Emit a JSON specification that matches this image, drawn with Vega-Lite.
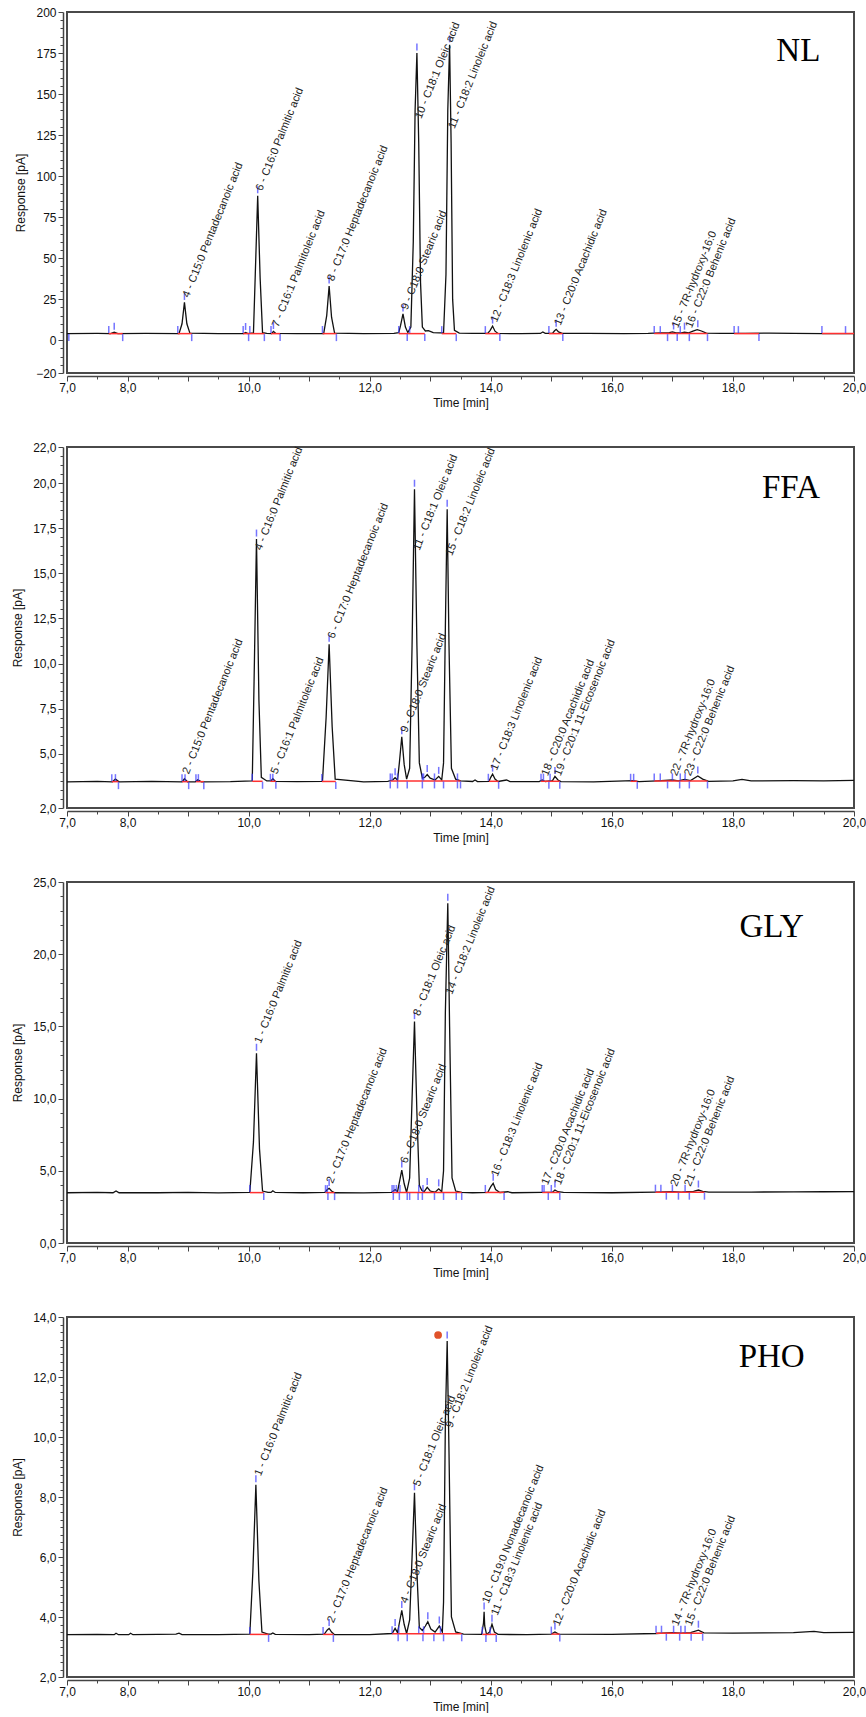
{
"$schema": "https://vega.github.io/schema/vega-lite/v6.json",
"padding": {"left": 10, "top": 5, "right": 13, "bottom": 0},
"spacing": 31,
"config": {
  "view": {"stroke": "#4a4a4a", "strokeWidth": 2},
  "axis": {"labelFont": "Liberation Sans", "labelFontSize": 12, "titleFont": "Liberation Sans", "titleFontSize": 12, "titleFontWeight": "normal", "labelColor": "#111", "titleColor": "#111", "domainColor": "#444", "domainWidth": 1.5, "tickColor": "#444", "tickWidth": 1, "grid": false, "labelOverlap": false, "labelFlush": false, "labelBound": false},
  "axisX": {"offset": 3, "labelPadding": 1, "titlePadding": 4},
  "axisY": {"offset": 4, "labelPadding": 2, "titlePadding": 8}
},
"datasets": {
"trace": [
{"p":"NL","t":7.0,"v":4.0},{"p":"NL","t":7.5,"v":4.1},{"p":"NL","t":7.72,"v":4.0},{"p":"NL","t":7.78,"v":4.9},{"p":"NL","t":7.84,"v":4.0},{"p":"NL","t":8.3,"v":4.1},{"p":"NL","t":8.85,"v":4.0},{"p":"NL","t":8.9,"v":10},{"p":"NL","t":8.94,"v":23},{"p":"NL","t":8.98,"v":10},{"p":"NL","t":9.03,"v":4.3},{"p":"NL","t":9.5,"v":4.0},{"p":"NL","t":9.92,"v":4.0},{"p":"NL","t":9.95,"v":4.7},{"p":"NL","t":9.99,"v":4.0},{"p":"NL","t":10.08,"v":4.4},{"p":"NL","t":10.11,"v":40},{"p":"NL","t":10.15,"v":88},{"p":"NL","t":10.19,"v":38},{"p":"NL","t":10.23,"v":4.6},{"p":"NL","t":10.3,"v":4.1},{"p":"NL","t":10.38,"v":4.0},{"p":"NL","t":10.41,"v":5.3},{"p":"NL","t":10.45,"v":4.1},{"p":"NL","t":10.8,"v":4.0},{"p":"NL","t":11.24,"v":4.0},{"p":"NL","t":11.29,"v":15},{"p":"NL","t":11.33,"v":33},{"p":"NL","t":11.37,"v":14},{"p":"NL","t":11.42,"v":4.3},{"p":"NL","t":11.9,"v":4.0},{"p":"NL","t":12.4,"v":4.2},{"p":"NL","t":12.48,"v":4.6},{"p":"NL","t":12.51,"v":9},{"p":"NL","t":12.55,"v":16},{"p":"NL","t":12.59,"v":8},{"p":"NL","t":12.63,"v":4.6},{"p":"NL","t":12.68,"v":8},{"p":"NL","t":12.72,"v":60},{"p":"NL","t":12.75,"v":140},{"p":"NL","t":12.78,"v":175},{"p":"NL","t":12.81,"v":120},{"p":"NL","t":12.84,"v":35},{"p":"NL","t":12.87,"v":8},{"p":"NL","t":12.92,"v":5.6},{"p":"NL","t":12.97,"v":5.8},{"p":"NL","t":13.05,"v":4.6},{"p":"NL","t":13.15,"v":4.4},{"p":"NL","t":13.22,"v":4.5},{"p":"NL","t":13.26,"v":40},{"p":"NL","t":13.29,"v":140},{"p":"NL","t":13.32,"v":180},{"p":"NL","t":13.345,"v":120},{"p":"NL","t":13.37,"v":25},{"p":"NL","t":13.4,"v":6},{"p":"NL","t":13.48,"v":4.3},{"p":"NL","t":13.7,"v":4.1},{"p":"NL","t":13.95,"v":4.1},{"p":"NL","t":13.99,"v":6},{"p":"NL","t":14.03,"v":8.6},{"p":"NL","t":14.07,"v":5.5},{"p":"NL","t":14.12,"v":4.1},{"p":"NL","t":14.5,"v":4.0},{"p":"NL","t":14.82,"v":4.1},{"p":"NL","t":14.86,"v":5.0},{"p":"NL","t":14.9,"v":4.2},{"p":"NL","t":15.02,"v":4.1},{"p":"NL","t":15.05,"v":5.6},{"p":"NL","t":15.08,"v":6.6},{"p":"NL","t":15.12,"v":5},{"p":"NL","t":15.18,"v":4.2},{"p":"NL","t":15.6,"v":4.1},{"p":"NL","t":16.2,"v":4.0},{"p":"NL","t":16.6,"v":4.1},{"p":"NL","t":16.8,"v":4.4},{"p":"NL","t":16.95,"v":4.6},{"p":"NL","t":17.0,"v":5.0},{"p":"NL","t":17.06,"v":4.4},{"p":"NL","t":17.15,"v":4.5},{"p":"NL","t":17.2,"v":4.9},{"p":"NL","t":17.27,"v":4.5},{"p":"NL","t":17.34,"v":5.5},{"p":"NL","t":17.41,"v":6.4},{"p":"NL","t":17.48,"v":5.6},{"p":"NL","t":17.56,"v":4.3},{"p":"NL","t":17.8,"v":4.1},{"p":"NL","t":18.2,"v":4.1},{"p":"NL","t":18.6,"v":4.3},{"p":"NL","t":19.0,"v":4.1},{"p":"NL","t":19.5,"v":4.0},{"p":"NL","t":20.0,"v":4.0},

{"p":"FFA","t":7.0,"v":3.45},{"p":"FFA","t":7.5,"v":3.47},{"p":"FFA","t":7.75,"v":3.45},{"p":"FFA","t":7.8,"v":3.6},{"p":"FFA","t":7.86,"v":3.45},{"p":"FFA","t":8.4,"v":3.47},{"p":"FFA","t":8.9,"v":3.45},{"p":"FFA","t":8.94,"v":3.62},{"p":"FFA","t":8.99,"v":3.45},{"p":"FFA","t":9.12,"v":3.45},{"p":"FFA","t":9.16,"v":3.56},{"p":"FFA","t":9.22,"v":3.45},{"p":"FFA","t":9.7,"v":3.46},{"p":"FFA","t":10.06,"v":3.5},{"p":"FFA","t":10.09,"v":9},{"p":"FFA","t":10.13,"v":16.9},{"p":"FFA","t":10.17,"v":8},{"p":"FFA","t":10.21,"v":3.7},{"p":"FFA","t":10.3,"v":3.5},{"p":"FFA","t":10.37,"v":3.5},{"p":"FFA","t":10.4,"v":3.62},{"p":"FFA","t":10.44,"v":3.48},{"p":"FFA","t":10.8,"v":3.46},{"p":"FFA","t":11.22,"v":3.48},{"p":"FFA","t":11.28,"v":7},{"p":"FFA","t":11.33,"v":11.07},{"p":"FFA","t":11.38,"v":6.5},{"p":"FFA","t":11.43,"v":3.6},{"p":"FFA","t":11.9,"v":3.45},{"p":"FFA","t":12.3,"v":3.47},{"p":"FFA","t":12.38,"v":3.55},{"p":"FFA","t":12.42,"v":3.68},{"p":"FFA","t":12.46,"v":3.55},{"p":"FFA","t":12.49,"v":4.5},{"p":"FFA","t":12.53,"v":5.95},{"p":"FFA","t":12.57,"v":4.4},{"p":"FFA","t":12.61,"v":3.6},{"p":"FFA","t":12.66,"v":4.2},{"p":"FFA","t":12.7,"v":11},{"p":"FFA","t":12.74,"v":19.66},{"p":"FFA","t":12.78,"v":11},{"p":"FFA","t":12.82,"v":4.5},{"p":"FFA","t":12.87,"v":3.65},{"p":"FFA","t":12.91,"v":3.7},{"p":"FFA","t":12.95,"v":3.85},{"p":"FFA","t":13.0,"v":3.65},{"p":"FFA","t":13.08,"v":3.55},{"p":"FFA","t":13.14,"v":3.75},{"p":"FFA","t":13.19,"v":3.55},{"p":"FFA","t":13.22,"v":4.5},{"p":"FFA","t":13.25,"v":12},{"p":"FFA","t":13.28,"v":18.55},{"p":"FFA","t":13.31,"v":11},{"p":"FFA","t":13.35,"v":4.2},{"p":"FFA","t":13.42,"v":3.6},{"p":"FFA","t":13.5,"v":3.5},{"p":"FFA","t":13.7,"v":3.47},{"p":"FFA","t":13.74,"v":3.55},{"p":"FFA","t":13.78,"v":3.46},{"p":"FFA","t":13.97,"v":3.47},{"p":"FFA","t":14.0,"v":3.7},{"p":"FFA","t":14.03,"v":3.88},{"p":"FFA","t":14.07,"v":3.6},{"p":"FFA","t":14.12,"v":3.47},{"p":"FFA","t":14.26,"v":3.55},{"p":"FFA","t":14.32,"v":3.46},{"p":"FFA","t":14.8,"v":3.46},{"p":"FFA","t":14.85,"v":3.55},{"p":"FFA","t":14.9,"v":3.47},{"p":"FFA","t":15.02,"v":3.52},{"p":"FFA","t":15.06,"v":3.75},{"p":"FFA","t":15.11,"v":3.55},{"p":"FFA","t":15.16,"v":3.46},{"p":"FFA","t":15.7,"v":3.45},{"p":"FFA","t":16.35,"v":3.52},{"p":"FFA","t":16.45,"v":3.46},{"p":"FFA","t":16.75,"v":3.5},{"p":"FFA","t":17.0,"v":3.55},{"p":"FFA","t":17.1,"v":3.5},{"p":"FFA","t":17.2,"v":3.58},{"p":"FFA","t":17.3,"v":3.52},{"p":"FFA","t":17.42,"v":3.77},{"p":"FFA","t":17.5,"v":3.6},{"p":"FFA","t":17.6,"v":3.48},{"p":"FFA","t":18.0,"v":3.5},{"p":"FFA","t":18.15,"v":3.58},{"p":"FFA","t":18.3,"v":3.5},{"p":"FFA","t":19.0,"v":3.52},{"p":"FFA","t":19.5,"v":3.5},{"p":"FFA","t":20.0,"v":3.53},

{"p":"GLY","t":7.0,"v":3.48},{"p":"GLY","t":7.5,"v":3.5},{"p":"GLY","t":7.76,"v":3.48},{"p":"GLY","t":7.81,"v":3.6},{"p":"GLY","t":7.86,"v":3.48},{"p":"GLY","t":8.5,"v":3.48},{"p":"GLY","t":9.0,"v":3.5},{"p":"GLY","t":9.5,"v":3.47},{"p":"GLY","t":10.02,"v":3.5},{"p":"GLY","t":10.08,"v":7},{"p":"GLY","t":10.13,"v":13.14},{"p":"GLY","t":10.18,"v":6.5},{"p":"GLY","t":10.23,"v":3.6},{"p":"GLY","t":10.32,"v":3.5},{"p":"GLY","t":10.37,"v":3.5},{"p":"GLY","t":10.4,"v":3.62},{"p":"GLY","t":10.44,"v":3.5},{"p":"GLY","t":10.9,"v":3.48},{"p":"GLY","t":11.26,"v":3.5},{"p":"GLY","t":11.3,"v":3.7},{"p":"GLY","t":11.33,"v":3.78},{"p":"GLY","t":11.37,"v":3.6},{"p":"GLY","t":11.42,"v":3.48},{"p":"GLY","t":11.9,"v":3.47},{"p":"GLY","t":12.36,"v":3.5},{"p":"GLY","t":12.42,"v":3.7},{"p":"GLY","t":12.46,"v":3.55},{"p":"GLY","t":12.49,"v":4.2},{"p":"GLY","t":12.53,"v":5.05},{"p":"GLY","t":12.57,"v":4.1},{"p":"GLY","t":12.61,"v":3.5},{"p":"GLY","t":12.66,"v":4.5},{"p":"GLY","t":12.7,"v":10},{"p":"GLY","t":12.74,"v":15.33},{"p":"GLY","t":12.78,"v":9},{"p":"GLY","t":12.82,"v":4.0},{"p":"GLY","t":12.86,"v":3.65},{"p":"GLY","t":12.9,"v":3.55},{"p":"GLY","t":12.95,"v":3.85},{"p":"GLY","t":13.0,"v":3.6},{"p":"GLY","t":13.08,"v":3.52},{"p":"GLY","t":13.14,"v":3.75},{"p":"GLY","t":13.19,"v":3.55},{"p":"GLY","t":13.22,"v":5},{"p":"GLY","t":13.25,"v":16},{"p":"GLY","t":13.29,"v":23.52},{"p":"GLY","t":13.32,"v":15},{"p":"GLY","t":13.36,"v":4.5},{"p":"GLY","t":13.42,"v":3.6},{"p":"GLY","t":13.52,"v":3.5},{"p":"GLY","t":13.7,"v":3.48},{"p":"GLY","t":13.95,"v":3.5},{"p":"GLY","t":14.0,"v":3.9},{"p":"GLY","t":14.04,"v":4.13},{"p":"GLY","t":14.08,"v":3.7},{"p":"GLY","t":14.15,"v":3.5},{"p":"GLY","t":14.28,"v":3.55},{"p":"GLY","t":14.35,"v":3.48},{"p":"GLY","t":14.85,"v":3.5},{"p":"GLY","t":15.02,"v":3.52},{"p":"GLY","t":15.06,"v":3.67},{"p":"GLY","t":15.11,"v":3.55},{"p":"GLY","t":15.2,"v":3.5},{"p":"GLY","t":16.0,"v":3.48},{"p":"GLY","t":16.72,"v":3.52},{"p":"GLY","t":17.0,"v":3.56},{"p":"GLY","t":17.15,"v":3.52},{"p":"GLY","t":17.25,"v":3.55},{"p":"GLY","t":17.35,"v":3.58},{"p":"GLY","t":17.43,"v":3.67},{"p":"GLY","t":17.5,"v":3.58},{"p":"GLY","t":17.6,"v":3.52},{"p":"GLY","t":18.3,"v":3.53},{"p":"GLY","t":19.0,"v":3.54},{"p":"GLY","t":19.5,"v":3.55},{"p":"GLY","t":20.0,"v":3.56},

{"p":"PHO","t":7.0,"v":3.41},{"p":"PHO","t":7.5,"v":3.42},{"p":"PHO","t":7.78,"v":3.41},{"p":"PHO","t":7.81,"v":3.46},{"p":"PHO","t":7.85,"v":3.41},{"p":"PHO","t":8.02,"v":3.41},{"p":"PHO","t":8.05,"v":3.46},{"p":"PHO","t":8.09,"v":3.41},{"p":"PHO","t":8.5,"v":3.42},{"p":"PHO","t":8.8,"v":3.43},{"p":"PHO","t":8.85,"v":3.46},{"p":"PHO","t":8.9,"v":3.41},{"p":"PHO","t":9.5,"v":3.41},{"p":"PHO","t":10.02,"v":3.43},{"p":"PHO","t":10.07,"v":5.5},{"p":"PHO","t":10.12,"v":8.41},{"p":"PHO","t":10.17,"v":5.2},{"p":"PHO","t":10.22,"v":3.5},{"p":"PHO","t":10.32,"v":3.43},{"p":"PHO","t":10.37,"v":3.43},{"p":"PHO","t":10.4,"v":3.47},{"p":"PHO","t":10.44,"v":3.42},{"p":"PHO","t":11.0,"v":3.41},{"p":"PHO","t":11.25,"v":3.43},{"p":"PHO","t":11.3,"v":3.57},{"p":"PHO","t":11.33,"v":3.62},{"p":"PHO","t":11.37,"v":3.5},{"p":"PHO","t":11.42,"v":3.41},{"p":"PHO","t":12.0,"v":3.41},{"p":"PHO","t":12.37,"v":3.45},{"p":"PHO","t":12.42,"v":3.62},{"p":"PHO","t":12.46,"v":3.48},{"p":"PHO","t":12.49,"v":3.8},{"p":"PHO","t":12.53,"v":4.22},{"p":"PHO","t":12.57,"v":3.75},{"p":"PHO","t":12.61,"v":3.45},{"p":"PHO","t":12.66,"v":3.9},{"p":"PHO","t":12.7,"v":6},{"p":"PHO","t":12.74,"v":8.14},{"p":"PHO","t":12.78,"v":5.5},{"p":"PHO","t":12.82,"v":3.65},{"p":"PHO","t":12.87,"v":3.55},{"p":"PHO","t":12.92,"v":3.7},{"p":"PHO","t":12.96,"v":3.84},{"p":"PHO","t":13.01,"v":3.6},{"p":"PHO","t":13.08,"v":3.5},{"p":"PHO","t":13.15,"v":3.7},{"p":"PHO","t":13.2,"v":3.5},{"p":"PHO","t":13.22,"v":4.5},{"p":"PHO","t":13.25,"v":10.5},{"p":"PHO","t":13.28,"v":13.2},{"p":"PHO","t":13.31,"v":9.5},{"p":"PHO","t":13.35,"v":4.0},{"p":"PHO","t":13.42,"v":3.5},{"p":"PHO","t":13.55,"v":3.43},{"p":"PHO","t":13.85,"v":3.42},{"p":"PHO","t":13.88,"v":3.8},{"p":"PHO","t":13.89,"v":4.17},{"p":"PHO","t":13.9,"v":3.7},{"p":"PHO","t":13.93,"v":3.42},{"p":"PHO","t":13.98,"v":3.5},{"p":"PHO","t":14.02,"v":3.76},{"p":"PHO","t":14.06,"v":3.5},{"p":"PHO","t":14.12,"v":3.42},{"p":"PHO","t":14.6,"v":3.41},{"p":"PHO","t":15.0,"v":3.43},{"p":"PHO","t":15.06,"v":3.5},{"p":"PHO","t":15.12,"v":3.43},{"p":"PHO","t":16.0,"v":3.42},{"p":"PHO","t":16.73,"v":3.45},{"p":"PHO","t":17.0,"v":3.48},{"p":"PHO","t":17.15,"v":3.46},{"p":"PHO","t":17.3,"v":3.48},{"p":"PHO","t":17.43,"v":3.56},{"p":"PHO","t":17.52,"v":3.47},{"p":"PHO","t":18.0,"v":3.46},{"p":"PHO","t":18.5,"v":3.47},{"p":"PHO","t":19.0,"v":3.48},{"p":"PHO","t":19.34,"v":3.52},{"p":"PHO","t":19.5,"v":3.48},{"p":"PHO","t":20.0,"v":3.49}
],
"base": [
{"p":"NL","t":7.69,"t2":7.92,"v":4},{"p":"NL","t":8.83,"t2":9.06,"v":4},{"p":"NL","t":9.91,"t2":10.26,"v":4},{"p":"NL","t":10.37,"t2":10.52,"v":4},{"p":"NL","t":11.22,"t2":11.45,"v":4},{"p":"NL","t":12.48,"t2":12.91,"v":4},{"p":"NL","t":13.19,"t2":13.43,"v":4},{"p":"NL","t":13.91,"t2":14.15,"v":4},{"p":"NL","t":14.96,"t2":15.19,"v":4},{"p":"NL","t":16.7,"t2":17.58,"v":4},{"p":"NL","t":18.02,"t2":18.43,"v":4},{"p":"NL","t":19.47,"t2":20.0,"v":4},
{"p":"FFA","t":7.74,"t2":7.85,"v":3.46},{"p":"FFA","t":8.9,"t2":9.01,"v":3.46},{"p":"FFA","t":9.13,"t2":9.26,"v":3.46},{"p":"FFA","t":10.06,"t2":10.23,"v":3.48},{"p":"FFA","t":10.36,"t2":10.45,"v":3.48},{"p":"FFA","t":11.21,"t2":11.44,"v":3.47},{"p":"FFA","t":12.34,"t2":13.5,"v":3.5},{"p":"FFA","t":13.97,"t2":14.13,"v":3.48},{"p":"FFA","t":14.83,"t2":15.14,"v":3.48},{"p":"FFA","t":16.31,"t2":16.42,"v":3.48},{"p":"FFA","t":16.7,"t2":17.58,"v":3.5},
{"p":"GLY","t":10.02,"t2":10.25,"v":3.49},{"p":"GLY","t":11.27,"t2":11.42,"v":3.49},{"p":"GLY","t":12.37,"t2":13.52,"v":3.5},{"p":"GLY","t":13.91,"t2":14.22,"v":3.5},{"p":"GLY","t":14.85,"t2":15.14,"v":3.5},{"p":"GLY","t":16.72,"t2":17.53,"v":3.52},
{"p":"PHO","t":10.02,"t2":10.33,"v":3.42},{"p":"PHO","t":11.23,"t2":11.4,"v":3.42},{"p":"PHO","t":12.37,"t2":13.52,"v":3.44},{"p":"PHO","t":13.86,"t2":14.09,"v":3.42},{"p":"PHO","t":15.0,"t2":15.14,"v":3.43},{"p":"PHO","t":16.73,"t2":17.5,"v":3.46}
],
"ticks": [
{"p":"NL","k":"u","t":7.69,"v":4},{"p":"NL","k":"u","t":8.83,"v":4},{"p":"NL","k":"u","t":9.91,"v":4},{"p":"NL","k":"u","t":10.02,"v":4},{"p":"NL","k":"u","t":10.37,"v":4},{"p":"NL","k":"u","t":11.22,"v":4},{"p":"NL","k":"u","t":12.48,"v":4},{"p":"NL","k":"u","t":12.66,"v":4},{"p":"NL","k":"u","t":13.19,"v":4},{"p":"NL","k":"u","t":13.91,"v":4},{"p":"NL","k":"u","t":14.96,"v":4},{"p":"NL","k":"u","t":16.7,"v":4},{"p":"NL","k":"u","t":16.8,"v":4},{"p":"NL","k":"u","t":17.13,"v":4},{"p":"NL","k":"u","t":18.02,"v":4},{"p":"NL","k":"u","t":18.09,"v":4},{"p":"NL","k":"u","t":19.47,"v":4},{"p":"NL","k":"u","t":19.86,"v":4},
{"p":"NL","k":"a","t":7.78,"v":4.9},{"p":"NL","k":"a","t":8.94,"v":23},{"p":"NL","k":"a","t":9.95,"v":4.7},{"p":"NL","k":"a","t":10.15,"v":88},{"p":"NL","k":"a","t":10.41,"v":5.3},{"p":"NL","k":"a","t":11.33,"v":33},{"p":"NL","k":"a","t":12.55,"v":16},{"p":"NL","k":"a","t":12.78,"v":175},{"p":"NL","k":"a","t":13.32,"v":180},{"p":"NL","k":"a","t":14.03,"v":8.6},{"p":"NL","k":"a","t":15.08,"v":6.6},{"p":"NL","k":"a","t":17.02,"v":5.0},{"p":"NL","k":"a","t":17.2,"v":4.9},{"p":"NL","k":"a","t":17.42,"v":6.4},
{"p":"NL","k":"d","t":7.03,"v":4},{"p":"NL","k":"d","t":7.92,"v":4},{"p":"NL","k":"d","t":9.06,"v":4},{"p":"NL","k":"d","t":10.0,"v":4},{"p":"NL","k":"d","t":10.26,"v":4},{"p":"NL","k":"d","t":10.52,"v":4},{"p":"NL","k":"d","t":11.45,"v":4},{"p":"NL","k":"d","t":12.62,"v":4},{"p":"NL","k":"d","t":12.91,"v":4},{"p":"NL","k":"d","t":13.43,"v":4},{"p":"NL","k":"d","t":14.15,"v":4},{"p":"NL","k":"d","t":15.19,"v":4},{"p":"NL","k":"d","t":16.92,"v":4},{"p":"NL","k":"d","t":17.08,"v":4},{"p":"NL","k":"d","t":17.28,"v":4},{"p":"NL","k":"d","t":17.58,"v":4},{"p":"NL","k":"d","t":18.43,"v":4},

{"p":"FFA","k":"u","t":7.74,"v":3.46},{"p":"FFA","k":"u","t":7.8,"v":3.46},{"p":"FFA","k":"u","t":8.9,"v":3.46},{"p":"FFA","k":"u","t":8.95,"v":3.46},{"p":"FFA","k":"u","t":9.13,"v":3.46},{"p":"FFA","k":"u","t":9.17,"v":3.46},{"p":"FFA","k":"u","t":10.06,"v":3.48},{"p":"FFA","k":"u","t":10.36,"v":3.48},{"p":"FFA","k":"u","t":10.4,"v":3.48},{"p":"FFA","k":"u","t":11.21,"v":3.47},{"p":"FFA","k":"u","t":12.34,"v":3.5},{"p":"FFA","k":"u","t":12.37,"v":3.5},{"p":"FFA","k":"u","t":12.46,"v":3.5},{"p":"FFA","k":"u","t":12.87,"v":3.5},{"p":"FFA","k":"u","t":12.89,"v":3.5},{"p":"FFA","k":"u","t":13.07,"v":3.5},{"p":"FFA","k":"u","t":13.45,"v":3.5},{"p":"FFA","k":"u","t":13.96,"v":3.48},{"p":"FFA","k":"u","t":14.83,"v":3.48},{"p":"FFA","k":"u","t":14.87,"v":3.48},{"p":"FFA","k":"u","t":14.98,"v":3.48},{"p":"FFA","k":"u","t":16.31,"v":3.48},{"p":"FFA","k":"u","t":16.36,"v":3.48},{"p":"FFA","k":"u","t":16.7,"v":3.5},{"p":"FFA","k":"u","t":16.8,"v":3.5},{"p":"FFA","k":"u","t":17.0,"v":3.5},{"p":"FFA","k":"u","t":17.13,"v":3.5},{"p":"FFA","k":"u","t":17.21,"v":3.5},
{"p":"FFA","k":"a","t":10.13,"v":16.9},{"p":"FFA","k":"a","t":11.33,"v":11.07},{"p":"FFA","k":"a","t":12.42,"v":3.68},{"p":"FFA","k":"a","t":12.53,"v":5.95},{"p":"FFA","k":"a","t":12.74,"v":19.66},{"p":"FFA","k":"a","t":12.95,"v":3.85},{"p":"FFA","k":"a","t":13.14,"v":3.75},{"p":"FFA","k":"a","t":13.28,"v":18.55},{"p":"FFA","k":"a","t":14.03,"v":3.88},{"p":"FFA","k":"a","t":15.06,"v":3.75},{"p":"FFA","k":"a","t":17.42,"v":3.77},
{"p":"FFA","k":"d","t":7.85,"v":3.46},{"p":"FFA","k":"d","t":9.01,"v":3.46},{"p":"FFA","k":"d","t":9.26,"v":3.46},{"p":"FFA","k":"d","t":10.23,"v":3.48},{"p":"FFA","k":"d","t":10.45,"v":3.48},{"p":"FFA","k":"d","t":11.44,"v":3.47},{"p":"FFA","k":"d","t":12.34,"v":3.5},{"p":"FFA","k":"d","t":12.46,"v":3.5},{"p":"FFA","k":"d","t":12.62,"v":3.5},{"p":"FFA","k":"d","t":12.87,"v":3.5},{"p":"FFA","k":"d","t":13.07,"v":3.5},{"p":"FFA","k":"d","t":13.22,"v":3.5},{"p":"FFA","k":"d","t":13.45,"v":3.5},{"p":"FFA","k":"d","t":13.5,"v":3.5},{"p":"FFA","k":"d","t":14.13,"v":3.48},{"p":"FFA","k":"d","t":14.96,"v":3.48},{"p":"FFA","k":"d","t":15.14,"v":3.48},{"p":"FFA","k":"d","t":16.42,"v":3.48},{"p":"FFA","k":"d","t":16.92,"v":3.5},{"p":"FFA","k":"d","t":17.12,"v":3.5},{"p":"FFA","k":"d","t":17.28,"v":3.5},{"p":"FFA","k":"d","t":17.58,"v":3.5},

{"p":"GLY","k":"u","t":10.02,"v":3.49},{"p":"GLY","k":"u","t":11.27,"v":3.49},{"p":"GLY","k":"u","t":11.3,"v":3.49},{"p":"GLY","k":"u","t":12.37,"v":3.5},{"p":"GLY","k":"u","t":12.4,"v":3.5},{"p":"GLY","k":"u","t":12.44,"v":3.5},{"p":"GLY","k":"u","t":12.5,"v":3.5},{"p":"GLY","k":"u","t":12.81,"v":3.5},{"p":"GLY","k":"u","t":12.88,"v":3.5},{"p":"GLY","k":"u","t":13.91,"v":3.5},{"p":"GLY","k":"u","t":14.85,"v":3.5},{"p":"GLY","k":"u","t":14.88,"v":3.5},{"p":"GLY","k":"u","t":15.0,"v":3.5},{"p":"GLY","k":"u","t":16.72,"v":3.52},{"p":"GLY","k":"u","t":16.81,"v":3.52},{"p":"GLY","k":"u","t":17.0,"v":3.52},{"p":"GLY","k":"u","t":17.21,"v":3.52},
{"p":"GLY","k":"a","t":10.13,"v":13.14},{"p":"GLY","k":"a","t":11.33,"v":3.78},{"p":"GLY","k":"a","t":12.53,"v":5.05},{"p":"GLY","k":"a","t":12.74,"v":15.33},{"p":"GLY","k":"a","t":12.95,"v":3.85},{"p":"GLY","k":"a","t":13.14,"v":3.75},{"p":"GLY","k":"a","t":13.29,"v":23.52},{"p":"GLY","k":"a","t":14.04,"v":4.13},{"p":"GLY","k":"a","t":15.06,"v":3.67},{"p":"GLY","k":"a","t":17.43,"v":3.67},
{"p":"GLY","k":"d","t":10.25,"v":3.49},{"p":"GLY","k":"d","t":11.31,"v":3.49},{"p":"GLY","k":"d","t":11.42,"v":3.49},{"p":"GLY","k":"d","t":12.39,"v":3.5},{"p":"GLY","k":"d","t":12.49,"v":3.5},{"p":"GLY","k":"d","t":12.62,"v":3.5},{"p":"GLY","k":"d","t":12.66,"v":3.5},{"p":"GLY","k":"d","t":12.8,"v":3.5},{"p":"GLY","k":"d","t":12.87,"v":3.5},{"p":"GLY","k":"d","t":13.07,"v":3.5},{"p":"GLY","k":"d","t":13.22,"v":3.5},{"p":"GLY","k":"d","t":13.43,"v":3.5},{"p":"GLY","k":"d","t":13.52,"v":3.5},{"p":"GLY","k":"d","t":14.22,"v":3.5},{"p":"GLY","k":"d","t":14.95,"v":3.5},{"p":"GLY","k":"d","t":15.14,"v":3.5},{"p":"GLY","k":"d","t":16.9,"v":3.52},{"p":"GLY","k":"d","t":17.1,"v":3.52},{"p":"GLY","k":"d","t":17.28,"v":3.52},{"p":"GLY","k":"d","t":17.53,"v":3.52},

{"p":"PHO","k":"u","t":10.02,"v":3.42},{"p":"PHO","k":"u","t":11.23,"v":3.42},{"p":"PHO","k":"u","t":12.37,"v":3.44},{"p":"PHO","k":"u","t":12.48,"v":3.44},{"p":"PHO","k":"u","t":12.81,"v":3.44},{"p":"PHO","k":"u","t":12.89,"v":3.44},{"p":"PHO","k":"u","t":13.17,"v":3.44},{"p":"PHO","k":"u","t":13.86,"v":3.42},{"p":"PHO","k":"u","t":13.99,"v":3.42},{"p":"PHO","k":"u","t":15.0,"v":3.43},{"p":"PHO","k":"u","t":16.73,"v":3.46},{"p":"PHO","k":"u","t":16.82,"v":3.46},{"p":"PHO","k":"u","t":17.02,"v":3.46},{"p":"PHO","k":"u","t":17.14,"v":3.46},{"p":"PHO","k":"u","t":17.21,"v":3.46},
{"p":"PHO","k":"a","t":10.12,"v":8.41},{"p":"PHO","k":"a","t":11.33,"v":3.62},{"p":"PHO","k":"a","t":12.42,"v":3.62},{"p":"PHO","k":"a","t":12.53,"v":4.22},{"p":"PHO","k":"a","t":12.74,"v":8.14},{"p":"PHO","k":"a","t":12.96,"v":3.84},{"p":"PHO","k":"a","t":13.15,"v":3.7},{"p":"PHO","k":"a","t":13.28,"v":13.2},{"p":"PHO","k":"a","t":13.89,"v":4.17},{"p":"PHO","k":"a","t":14.02,"v":3.76},{"p":"PHO","k":"a","t":15.06,"v":3.5},{"p":"PHO","k":"a","t":17.43,"v":3.56},
{"p":"PHO","k":"d","t":10.33,"v":3.42},{"p":"PHO","k":"d","t":11.4,"v":3.42},{"p":"PHO","k":"d","t":12.47,"v":3.44},{"p":"PHO","k":"d","t":12.62,"v":3.44},{"p":"PHO","k":"d","t":12.88,"v":3.44},{"p":"PHO","k":"d","t":13.06,"v":3.44},{"p":"PHO","k":"d","t":13.22,"v":3.44},{"p":"PHO","k":"d","t":13.52,"v":3.44},{"p":"PHO","k":"d","t":13.92,"v":3.42},{"p":"PHO","k":"d","t":14.09,"v":3.42},{"p":"PHO","k":"d","t":15.14,"v":3.43},{"p":"PHO","k":"d","t":16.9,"v":3.46},{"p":"PHO","k":"d","t":17.12,"v":3.46},{"p":"PHO","k":"d","t":17.31,"v":3.46},{"p":"PHO","k":"d","t":17.5,"v":3.46}
],
"labels": [
{"p":"NL","t":8.94,"v":24,"l":"4 - C15:0 Pentadecanoic acid"},{"p":"NL","t":10.15,"v":89,"l":"6 - C16:0 Palmitic acid"},{"p":"NL","t":10.42,"v":6,"l":"7 - C16:1 Palmitoleic acid"},{"p":"NL","t":11.33,"v":34,"l":"8 - C17:0 Heptadecanoic acid"},{"p":"NL","t":12.55,"v":16.5,"l":"9 - C18:0 Stearic acid"},{"p":"NL","t":12.78,"v":133,"l":"10 - C18:1 Oleic acid"},{"p":"NL","t":13.33,"v":127,"l":"11 - C18:2 Linoleic acid"},{"p":"NL","t":14.03,"v":9,"l":"12 - C18:3 Linolenic acid"},{"p":"NL","t":15.08,"v":7,"l":"13 - C20:0 Acachidic acid"},{"p":"NL","t":17.02,"v":5.5,"l":"15 - 7R-hydroxy-16:0"},{"p":"NL","t":17.25,"v":5.5,"l":"16 - C22:0 Behenic acid"},
{"p":"FFA","t":8.94,"v":3.7,"l":"2 - C15:0 Pentadecanoic acid"},{"p":"FFA","t":10.14,"v":16.1,"l":"4 - C16:0 Palmitic acid"},{"p":"FFA","t":10.4,"v":3.7,"l":"5 - C16:1 Palmitoleic acid"},{"p":"FFA","t":11.34,"v":11.2,"l":"6 - C17:0 Heptadecanoic acid"},{"p":"FFA","t":12.54,"v":6.0,"l":"9 - C18:0 Stearic acid"},{"p":"FFA","t":12.75,"v":16.1,"l":"11 - C18:1 Oleic acid"},{"p":"FFA","t":13.29,"v":15.8,"l":"15 - C18:2 Linoleic acid"},{"p":"FFA","t":14.03,"v":3.9,"l":"17 - C18:3 Linolenic acid"},{"p":"FFA","t":14.87,"v":3.6,"l":"18 - C20:0 Acachidic acid"},{"p":"FFA","t":15.08,"v":3.6,"l":"19 - C20:1 11-Eicosenoic acid"},{"p":"FFA","t":17.0,"v":3.6,"l":"22 - 7R-hydroxy-16:0"},{"p":"FFA","t":17.23,"v":3.6,"l":"23 - C22:0 Behenic acid"},
{"p":"GLY","t":10.13,"v":13.6,"l":"1 - C16:0 Palmitic acid"},{"p":"GLY","t":11.32,"v":3.9,"l":"2 - C17:0 Heptadecanoic acid"},{"p":"GLY","t":12.54,"v":5.3,"l":"6 - C18:0 Stearic acid"},{"p":"GLY","t":12.75,"v":15.5,"l":"8 - C18:1 Oleic acid"},{"p":"GLY","t":13.29,"v":17.0,"l":"14 - C18:2 Linoleic acid"},{"p":"GLY","t":14.04,"v":4.4,"l":"16 - C18:3 Linolenic acid"},{"p":"GLY","t":14.87,"v":3.8,"l":"17 - C20:0 Acachidic acid"},{"p":"GLY","t":15.08,"v":3.8,"l":"18 - C20:1 11-Eicosenoic acid"},{"p":"GLY","t":17.0,"v":3.7,"l":"20 - 7R-hydroxy-16:0"},{"p":"GLY","t":17.23,"v":3.7,"l":"21 - C22:0 Behenic acid"},
{"p":"PHO","t":10.13,"v":8.6,"l":"1 - C16:0 Palmitic acid"},{"p":"PHO","t":11.33,"v":3.7,"l":"2 - C17:0 Heptadecanoic acid"},{"p":"PHO","t":12.54,"v":4.35,"l":"4 - C18:0 Stearic acid"},{"p":"PHO","t":12.75,"v":8.25,"l":"5 - C18:1 Oleic acid"},{"p":"PHO","t":13.29,"v":10.2,"l":"9 - C18:2 Linoleic acid"},{"p":"PHO","t":13.89,"v":4.35,"l":"10 - C19:0 Nonadecanoic acid"},{"p":"PHO","t":14.04,"v":3.95,"l":"11 - C18:3 Linolenic acid"},{"p":"PHO","t":15.06,"v":3.6,"l":"12 - C20:0 Acachidic acid"},{"p":"PHO","t":17.02,"v":3.6,"l":"14 - 7R-hydroxy-16:0"},{"p":"PHO","t":17.24,"v":3.6,"l":"15 - C22:0 Behenic acid"}
],
"names": [
{"p":"NL","t":19.08,"v":176,"l":"NL"},{"p":"FFA","t":18.96,"v":19.73,"l":"FFA"},{"p":"GLY","t":18.64,"v":21.88,"l":"GLY"},{"p":"PHO","t":18.64,"v":12.68,"l":"PHO"}
],
"pins": [{"p":"PHO","t":13.13,"v":13.4}]
},
"vconcat": [
{
 "width": 787, "height": 361,
 "encoding": {
  "x": {"field":"t","type":"quantitative","scale":{"domain":[7,20],"nice":false,"zero":false},"axis":{"title":"Time [min]","values":[7,7.5,8,8.5,9,9.5,10,10.5,11,11.5,12,12.5,13,13.5,14,14.5,15,15.5,16,16.5,17,17.5,18,18.5,19,19.5,20],"labelExpr":"indexof([7,8,10,12,14,16,18,20], datum.value) >= 0 ? replace(format(datum.value,'.1f'),'.',',') : ''","tickSize":{"condition":{"test":"datum.value % 1 === 0","value":5},"value":3}}},
  "y": {"field":"v","type":"quantitative","scale":{"domain":[-20,200],"nice":false,"zero":false},"axis":{"title":"Response [pA]","values":[-20,-15,-10,-5,0,5,10,15,20,25,30,35,40,45,50,55,60,65,70,75,80,85,90,95,100,105,110,115,120,125,130,135,140,145,150,155,160,165,170,175,180,185,190,195,200],"labelExpr":"(datum.value % 25 === 0 || datum.value === -20) ? format(datum.value,'d') : ''","tickSize":{"condition":{"test":"datum.value % 25 === 0 || datum.value === -20","value":5},"value":3}}}
 },
 "layer": [
  {"data":{"name":"trace"},"transform":[{"filter":"datum.p == 'NL'"}],"mark":{"type":"line","color":"#111","strokeWidth":1.3}},
  {"data":{"name":"base"},"transform":[{"filter":"datum.p == 'NL'"}],"mark":{"type":"rule","color":"#ff3030","strokeWidth":1.5},"encoding":{"x2":{"field":"t2"}}},
  {"data":{"name":"ticks"},"transform":[{"filter":"datum.p == 'NL' && datum.k == 'u'"}],"mark":{"type":"tick","orient":"vertical","size":7,"thickness":1.5,"color":"#3a3aff","yOffset":-4}},
  {"data":{"name":"ticks"},"transform":[{"filter":"datum.p == 'NL' && datum.k == 'd'"}],"mark":{"type":"tick","orient":"vertical","size":7,"thickness":1.5,"color":"#3a3aff","yOffset":4}},
  {"data":{"name":"ticks"},"transform":[{"filter":"datum.p == 'NL' && datum.k == 'a'"}],"mark":{"type":"tick","orient":"vertical","size":7,"thickness":1.5,"color":"#3a3aff","yOffset":-6}},
  {"data":{"name":"labels"},"transform":[{"filter":"datum.p == 'NL'"}],"mark":{"type":"text","angle":292,"align":"left","baseline":"middle","dx":4,"fontSize":11,"font":"Liberation Sans","color":"#222"},"encoding":{"text":{"field":"l"}}},
  {"data":{"name":"names"},"transform":[{"filter":"datum.p == 'NL'"}],"mark":{"type":"text","align":"center","baseline":"middle","fontSize":33,"font":"Liberation Serif","color":"#000"},"encoding":{"text":{"field":"l"}}}
 ]
},
{
 "width": 787, "height": 361,
 "encoding": {
  "x": {"field":"t","type":"quantitative","scale":{"domain":[7,20],"nice":false,"zero":false},"axis":{"title":"Time [min]","values":[7,7.5,8,8.5,9,9.5,10,10.5,11,11.5,12,12.5,13,13.5,14,14.5,15,15.5,16,16.5,17,17.5,18,18.5,19,19.5,20],"labelExpr":"indexof([7,8,10,12,14,16,18,20], datum.value) >= 0 ? replace(format(datum.value,'.1f'),'.',',') : ''","tickSize":{"condition":{"test":"datum.value % 1 === 0","value":5},"value":3}}},
  "y": {"field":"v","type":"quantitative","scale":{"domain":[2,22],"nice":false,"zero":false},"axis":{"title":"Response [pA]","values":[2,2.5,3,3.5,4,4.5,5,5.5,6,6.5,7,7.5,8,8.5,9,9.5,10,10.5,11,11.5,12,12.5,13,13.5,14,14.5,15,15.5,16,16.5,17,17.5,18,18.5,19,19.5,20,20.5,21,21.5,22],"labelExpr":"((datum.value % 2.5 === 0 && datum.value >= 5) || datum.value === 2 || datum.value === 22) ? replace(format(datum.value,'.1f'),'.',',') : ''","tickSize":{"condition":{"test":"(datum.value % 2.5 === 0 && datum.value >= 5) || datum.value === 2 || datum.value === 22","value":5},"value":3}}}
 },
 "layer": [
  {"data":{"name":"trace"},"transform":[{"filter":"datum.p == 'FFA'"}],"mark":{"type":"line","color":"#111","strokeWidth":1.3}},
  {"data":{"name":"base"},"transform":[{"filter":"datum.p == 'FFA'"}],"mark":{"type":"rule","color":"#ff3030","strokeWidth":1.5},"encoding":{"x2":{"field":"t2"}}},
  {"data":{"name":"ticks"},"transform":[{"filter":"datum.p == 'FFA' && datum.k == 'u'"}],"mark":{"type":"tick","orient":"vertical","size":7,"thickness":1.5,"color":"#3a3aff","yOffset":-4}},
  {"data":{"name":"ticks"},"transform":[{"filter":"datum.p == 'FFA' && datum.k == 'd'"}],"mark":{"type":"tick","orient":"vertical","size":7,"thickness":1.5,"color":"#3a3aff","yOffset":4}},
  {"data":{"name":"ticks"},"transform":[{"filter":"datum.p == 'FFA' && datum.k == 'a'"}],"mark":{"type":"tick","orient":"vertical","size":7,"thickness":1.5,"color":"#3a3aff","yOffset":-6}},
  {"data":{"name":"labels"},"transform":[{"filter":"datum.p == 'FFA'"}],"mark":{"type":"text","angle":292,"align":"left","baseline":"middle","dx":4,"fontSize":11,"font":"Liberation Sans","color":"#222"},"encoding":{"text":{"field":"l"}}},
  {"data":{"name":"names"},"transform":[{"filter":"datum.p == 'FFA'"}],"mark":{"type":"text","align":"center","baseline":"middle","fontSize":33,"font":"Liberation Serif","color":"#000"},"encoding":{"text":{"field":"l"}}}
 ]
},
{
 "width": 787, "height": 361,
 "encoding": {
  "x": {"field":"t","type":"quantitative","scale":{"domain":[7,20],"nice":false,"zero":false},"axis":{"title":"Time [min]","values":[7,7.5,8,8.5,9,9.5,10,10.5,11,11.5,12,12.5,13,13.5,14,14.5,15,15.5,16,16.5,17,17.5,18,18.5,19,19.5,20],"labelExpr":"indexof([7,8,10,12,14,16,18,20], datum.value) >= 0 ? replace(format(datum.value,'.1f'),'.',',') : ''","tickSize":{"condition":{"test":"datum.value % 1 === 0","value":5},"value":3}}},
  "y": {"field":"v","type":"quantitative","scale":{"domain":[0,25],"nice":false,"zero":false},"axis":{"title":"Response [pA]","values":[0,1,2,3,4,5,6,7,8,9,10,11,12,13,14,15,16,17,18,19,20,21,22,23,24,25],"labelExpr":"(datum.value % 5 === 0) ? replace(format(datum.value,'.1f'),'.',',') : ''","tickSize":{"condition":{"test":"datum.value % 5 === 0","value":5},"value":3}}}
 },
 "layer": [
  {"data":{"name":"trace"},"transform":[{"filter":"datum.p == 'GLY'"}],"mark":{"type":"line","color":"#111","strokeWidth":1.3}},
  {"data":{"name":"base"},"transform":[{"filter":"datum.p == 'GLY'"}],"mark":{"type":"rule","color":"#ff3030","strokeWidth":1.5},"encoding":{"x2":{"field":"t2"}}},
  {"data":{"name":"ticks"},"transform":[{"filter":"datum.p == 'GLY' && datum.k == 'u'"}],"mark":{"type":"tick","orient":"vertical","size":7,"thickness":1.5,"color":"#3a3aff","yOffset":-4}},
  {"data":{"name":"ticks"},"transform":[{"filter":"datum.p == 'GLY' && datum.k == 'd'"}],"mark":{"type":"tick","orient":"vertical","size":7,"thickness":1.5,"color":"#3a3aff","yOffset":4}},
  {"data":{"name":"ticks"},"transform":[{"filter":"datum.p == 'GLY' && datum.k == 'a'"}],"mark":{"type":"tick","orient":"vertical","size":7,"thickness":1.5,"color":"#3a3aff","yOffset":-6}},
  {"data":{"name":"labels"},"transform":[{"filter":"datum.p == 'GLY'"}],"mark":{"type":"text","angle":292,"align":"left","baseline":"middle","dx":4,"fontSize":11,"font":"Liberation Sans","color":"#222"},"encoding":{"text":{"field":"l"}}},
  {"data":{"name":"names"},"transform":[{"filter":"datum.p == 'GLY'"}],"mark":{"type":"text","align":"center","baseline":"middle","fontSize":33,"font":"Liberation Serif","color":"#000"},"encoding":{"text":{"field":"l"}}}
 ]
},
{
 "width": 787, "height": 360,
 "encoding": {
  "x": {"field":"t","type":"quantitative","scale":{"domain":[7,20],"nice":false,"zero":false},"axis":{"title":"Time [min]","values":[7,7.5,8,8.5,9,9.5,10,10.5,11,11.5,12,12.5,13,13.5,14,14.5,15,15.5,16,16.5,17,17.5,18,18.5,19,19.5,20],"labelExpr":"indexof([7,8,10,12,14,16,18,20], datum.value) >= 0 ? replace(format(datum.value,'.1f'),'.',',') : ''","tickSize":{"condition":{"test":"datum.value % 1 === 0","value":5},"value":3}}},
  "y": {"field":"v","type":"quantitative","scale":{"domain":[2,14],"nice":false,"zero":false},"axis":{"title":"Response [pA]","values":[2,2.25,2.5,2.75,3,3.25,3.5,3.75,4,4.25,4.5,4.75,5,5.25,5.5,5.75,6,6.25,6.5,6.75,7,7.25,7.5,7.75,8,8.25,8.5,8.75,9,9.25,9.5,9.75,10,10.25,10.5,10.75,11,11.25,11.5,11.75,12,12.25,12.5,12.75,13,13.25,13.5,13.75,14],"labelExpr":"(datum.value % 2 === 0) ? replace(format(datum.value,'.1f'),'.',',') : ''","tickSize":{"condition":{"test":"datum.value % 2 === 0","value":5},"value":3}}}
 },
 "layer": [
  {"data":{"name":"trace"},"transform":[{"filter":"datum.p == 'PHO'"}],"mark":{"type":"line","color":"#111","strokeWidth":1.3}},
  {"data":{"name":"base"},"transform":[{"filter":"datum.p == 'PHO'"}],"mark":{"type":"rule","color":"#ff3030","strokeWidth":1.5},"encoding":{"x2":{"field":"t2"}}},
  {"data":{"name":"ticks"},"transform":[{"filter":"datum.p == 'PHO' && datum.k == 'u'"}],"mark":{"type":"tick","orient":"vertical","size":7,"thickness":1.5,"color":"#3a3aff","yOffset":-4}},
  {"data":{"name":"ticks"},"transform":[{"filter":"datum.p == 'PHO' && datum.k == 'd'"}],"mark":{"type":"tick","orient":"vertical","size":7,"thickness":1.5,"color":"#3a3aff","yOffset":4}},
  {"data":{"name":"ticks"},"transform":[{"filter":"datum.p == 'PHO' && datum.k == 'a'"}],"mark":{"type":"tick","orient":"vertical","size":7,"thickness":1.5,"color":"#3a3aff","yOffset":-6}},
  {"data":{"name":"pins"},"mark":{"type":"point","shape":"circle","filled":true,"size":60,"color":"#e0522a","opacity":1}},
  {"data":{"name":"labels"},"transform":[{"filter":"datum.p == 'PHO'"}],"mark":{"type":"text","angle":292,"align":"left","baseline":"middle","dx":4,"fontSize":11,"font":"Liberation Sans","color":"#222"},"encoding":{"text":{"field":"l"}}},
  {"data":{"name":"names"},"transform":[{"filter":"datum.p == 'PHO'"}],"mark":{"type":"text","align":"center","baseline":"middle","fontSize":33,"font":"Liberation Serif","color":"#000"},"encoding":{"text":{"field":"l"}}}
 ]
}
]
}
